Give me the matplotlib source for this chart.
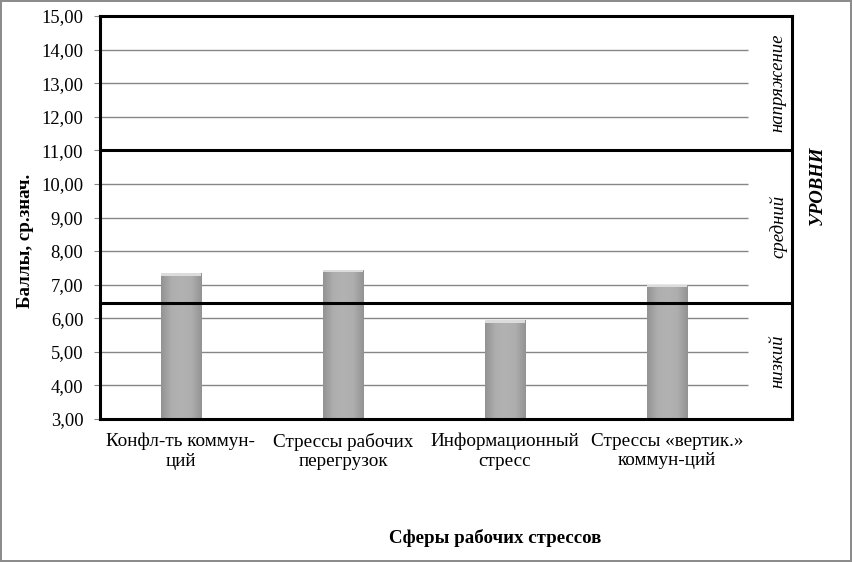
import matplotlib

matplotlib.use("Agg")
import matplotlib.pyplot as plt
import numpy as np
from matplotlib.colors import LinearSegmentedColormap

# data
categories = [
    "Конфл-ть коммун-\nций",
    "Стрессы рабочих\nперегрузок",
    "Информационный\nстресс",
    "Стрессы «вертик.»\nкоммун-ций",
]
scores = [7.35, 7.45, 5.95, 7.0]
y_ticks = [3, 4, 5, 6, 7, 8, 9, 10, 11, 12, 13, 14, 15]
level_bounds = [3.0, 6.45, 11.0, 15.0]
level_names = ["низкий", "средний", "напряжение"]

plt.rcParams["font.family"] = ["Liberation Serif", "DejaVu Serif"]

fig = plt.figure(figsize=(8.52, 5.62), dpi=100)
fig.patch.set_edgecolor("#8c8c8c")
fig.patch.set_linewidth(1.5)

W, H = 852, 562
ax = fig.add_axes([100 / W, 1 - 419 / H, 692 / W, 403 / H])

x = np.arange(len(categories))
x_right = len(categories) - 0.5 + 44 / 162

# grid lines only across the bar area
ax.hlines(y_ticks[1:-1], -0.5, len(categories) - 0.5, color="#868686", lw=1, zorder=1)

# bars with a soft shading
bars = ax.bar(x, scores, width=0.25, bottom=0, color="#aaaaaa", edgecolor="#9a9a9a",
              lw=0.6, zorder=2)
cmap = LinearSegmentedColormap.from_list("bar", ["#939393", "#aeaeae", "#b2b2b2", "#aeaeae", "#939393"])
grad = np.linspace(0, 1, 64).reshape(1, -1)
for b in bars:
    x0, w, h = b.get_x(), b.get_width(), b.get_height()
    im = ax.imshow(grad, extent=[x0, x0 + w, 3, h], aspect="auto", cmap=cmap, zorder=2.5)
    im.set_clip_path(b)
    ax.bar(b.get_x() + w / 2, 0.08, width=w, bottom=h - 0.08, color="#dcdcdc", lw=0, zorder=3)

# level boundaries
for yb in level_bounds[1:-1]:
    ax.axhline(yb, color="black", lw=2.2, zorder=4)

ax.set_xlim(-0.5, x_right)
ax.set_ylim(3, 15)
ax.set_yticks(y_ticks)
ax.set_yticklabels([f"{v:.2f}".replace(".", ",") for v in y_ticks], fontsize=13.3)
ax.set_xticks(x)
ax.set_xticklabels(categories, fontsize=13.8, linespacing=1.2)
ax.tick_params(axis="x", length=0, pad=10)
ax.tick_params(axis="y", length=4, color="#868686", pad=8)
for s in ax.spines.values():
    s.set_linewidth(2.2)
    s.set_zorder(5)

# level names in the right column
for lo, hi, name in zip(level_bounds[:-1], level_bounds[1:], level_names):
    ax.text(0.98, (lo + hi) / 2, name, transform=ax.get_yaxis_transform(), rotation=90,
            ha="center", va="center", fontsize=13.5, style="italic")
ax.text(1.036, 0.58, "УРОВНИ", transform=ax.transAxes, rotation=90, ha="center", va="center",
        fontsize=13.5, style="italic", fontweight="bold")

fig.text(25 / W, 1 - 241 / H, "Баллы, ср.знач.", rotation=90, ha="center", va="center",
         fontsize=13.6, fontweight="bold")
fig.text(495 / W, 1 - 538 / H, "Сферы рабочих стрессов", ha="center", va="center",
         fontsize=13.6, fontweight="bold")

fig.savefig("out.png", dpi=100, edgecolor=fig.get_edgecolor())
